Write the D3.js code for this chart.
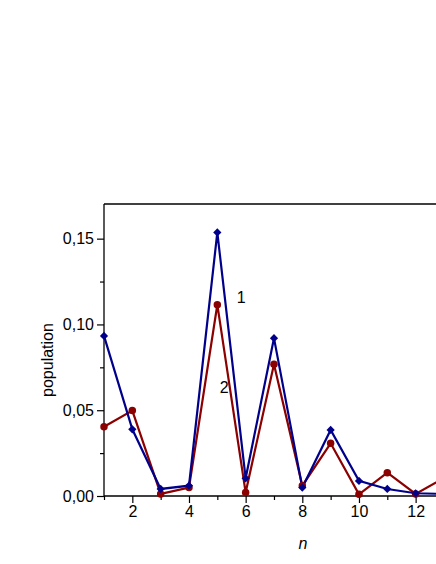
<!DOCTYPE html>
<html><head><meta charset="utf-8">
<script src="https://cdn.jsdelivr.net/npm/d3@7"></script>
<style>body{margin:0;background:#fff;overflow:hidden}svg{display:block}</style>
</head><body>
<script>
const nValues = [1,2,3,4,5,6,7,8,9,10,11,12,13];
const series1 = [0.0933,0.0389,0.0041,0.0060,0.1536,0.0103,0.0920,0.0049,0.0385,0.0088,0.0041,0.0016,0.0012];
const series2 = [0.0404,0.0498,0.0012,0.0049,0.1115,0.0020,0.0768,0.0060,0.0307,0.0010,0.0136,0.0012,0.0105];
const yTicks = [0,0.05,0.10,0.15];
const xTicks = [2,4,6,8,10,12];
const curveLabels = [{t:"1", n:5.84, v:0.1155},{t:"2", n:5.24, v:0.0635}];

const W=436,H=564;
const svg=d3.select("body").append("svg").attr("width",W).attr("height",H);
const L=104, T=204, B=496;
const x=d3.scaleLinear().domain([1,13]).range([L, L+12*28.33]);
const y=d3.scaleLinear().domain([0,0.1702]).range([B,T]);
const font="Liberation Sans, Arial, sans-serif";
const FS=16;

svg.append("defs").append("clipPath").attr("id","c").append("rect")
  .attr("x",L-6).attr("y",T-6).attr("width",W).attr("height",B-T+12);

// frame
svg.append("line").attr("x1",L).attr("x2",W).attr("y1",T).attr("y2",T).attr("stroke","#000").attr("stroke-width",1.3);

// y axis
const yAx=svg.append("g").attr("transform",`translate(${L},0)`)
  .call(d3.axisLeft(y).tickValues(yTicks).tickSize(7).tickPadding(3).tickFormat(d=>d3.format(".2f")(d).replace(".",",")));
yAx.select(".domain").attr("d",`M0,${T}V${B}`).attr("stroke-width",1.3);
yAx.selectAll("text").attr("font-family",font).attr("font-size",FS).attr("fill","#000");
yAx.selectAll(".tick line").attr("stroke-width",1.2);
const yMinor=svg.append("g").attr("transform",`translate(${L},0)`)
  .call(d3.axisLeft(y).tickValues([0.025,0.075,0.125]).tickSize(4).tickFormat(""));
yMinor.select(".domain").remove();
yMinor.selectAll(".tick line").attr("stroke-width",1.2);

// x axis
const xAx=svg.append("g").attr("transform",`translate(0,${B})`)
  .call(d3.axisBottom(x).tickValues(xTicks).tickSize(7).tickPadding(3).tickFormat(d3.format("d")));
xAx.select(".domain").attr("d",`M${L},0H${W}`).attr("stroke-width",1.3);
xAx.selectAll("text").attr("font-family",font).attr("font-size",FS).attr("fill","#000");
xAx.selectAll(".tick line").attr("stroke-width",1.2);
const xMinor=svg.append("g").attr("transform",`translate(0,${B})`)
  .call(d3.axisBottom(x).tickValues([1,3,5,7,9,11,13]).tickSize(4).tickFormat(""));
xMinor.select(".domain").remove();
xMinor.selectAll(".tick line").attr("stroke-width",1.2);

// axis titles
svg.append("text").attr("transform",`translate(47,360) rotate(-90)`).attr("text-anchor","middle")
  .attr("dominant-baseline","central")
  .attr("font-family",font).attr("font-size",FS).text("population");
svg.append("text").attr("x",303).attr("y",543).attr("text-anchor","middle").attr("dominant-baseline","central")
  .attr("font-family",font).attr("font-size",FS).attr("font-style","italic").text("n");

const g=svg.append("g").attr("clip-path","url(#c)");
const line=d3.line().x((d,i)=>x(nValues[i])).y(d=>y(d));
const red="#8b0000", blue="#00008b";
g.append("path").datum(series2).attr("d",line).attr("fill","none").attr("stroke",red).attr("stroke-width",2.2);
g.append("path").datum(series1).attr("d",line).attr("fill","none").attr("stroke",blue).attr("stroke-width",2.2);
g.selectAll(".m2").data(series2).join("path").attr("transform",(d,i)=>`translate(${x(nValues[i])},${y(d)})`)
  .attr("d",d3.symbol(d3.symbolCircle,44)).attr("fill",red);
g.selectAll(".m1").data(series1).join("path").attr("transform",(d,i)=>`translate(${x(nValues[i])},${y(d)}) rotate(45)`)
  .attr("d",d3.symbol(d3.symbolSquare,34)).attr("fill",blue);

svg.selectAll(".cl").data(curveLabels).join("text").attr("x",d=>x(d.n)).attr("y",d=>y(d.v))
  .attr("font-family",font).attr("font-size",FS).attr("text-anchor","middle").attr("dominant-baseline","central").text(d=>d.t);
</script>
</body></html>
